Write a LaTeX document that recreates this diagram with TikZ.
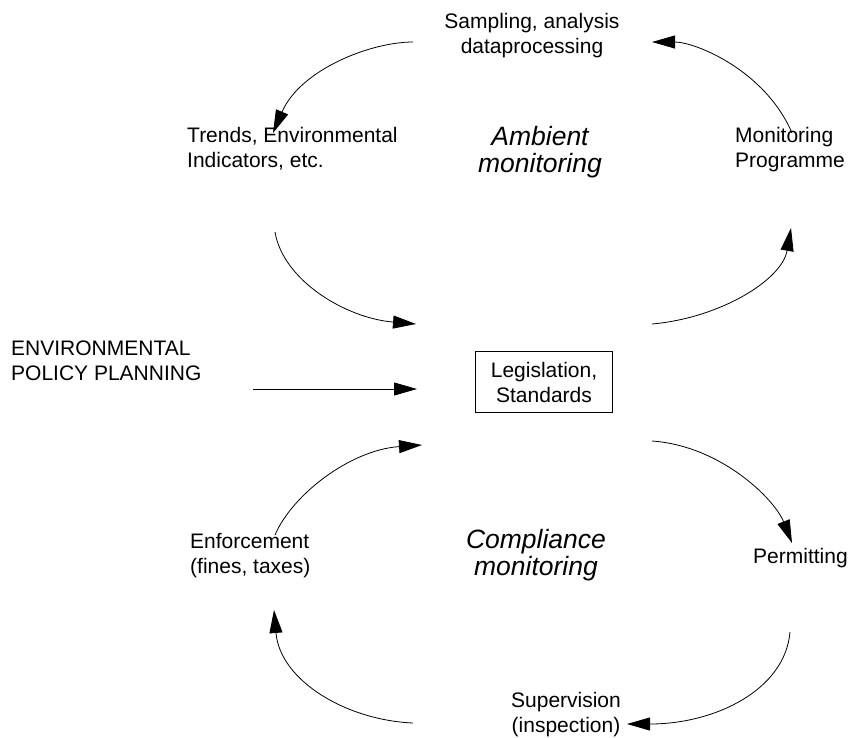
\documentclass[tikz,border=0pt]{standalone}
\usepackage{fontspec}
\setmainfont{Liberation Sans}
\usetikzlibrary{arrows.meta}
\tikzset{
  lbl/.style={font=\fontsize{21}{25}\selectfont, inner sep=0pt, align=left},
  lblc/.style={lbl, align=center},
  cyclename/.style={font=\fontsize{26.5}{27}\selectfont\itshape, inner sep=0pt, align=center},
  flow/.style={-{Triangle[length=23pt,width=13pt]}, line width=0.8pt}
}

\begin{document}
\begin{tikzpicture}[x=1pt, y=-1pt]
\useasboundingbox (0,0) rectangle (848,737);

% Ambient monitoring (upper cycle)
\node[lblc, anchor=base] (samp) at (532,53) {Sampling, analysis\\dataprocessing};
\node[lbl, anchor=base west] (trend) at (187,167) {Trends, Environmental\\Indicators, etc.};
\node[lbl, anchor=base west] (monprog) at (735,167) {Monitoring\\Programme};
\node[cyclename, anchor=base] (ambient) at (540,172) {Ambient\\monitoring};

% Policy input and the central box
\node[lbl, anchor=base west] (policy) at (11,380) {ENVIRONMENTAL\\POLICY PLANNING};
\node[lblc, draw, line width=0.8pt, minimum width=137pt, minimum height=61pt] (legis) at (544,382) {Legislation,\\Standards};

% Compliance monitoring (lower cycle)
\node[lbl, anchor=base west] (enforce) at (190,573) {Enforcement\\(fines, taxes)};
\node[cyclename, anchor=base] (compl) at (536,575) {Compliance\\monitoring};
\node[lbl, anchor=base west] (permit) at (753,563) {Permitting};
\node[lblc, anchor=base] (super) at (566,732) {Supervision\\(inspection)};

% free ends of the arrows
\coordinate (samp-w) at (413,42);
\coordinate (samp-e) at (652,42);
\coordinate (trend-n) at (273,133);
\coordinate (trend-s) at (275,232);
\coordinate (monprog-n) at (792,133);
\coordinate (monprog-s) at (791,228);
\coordinate (legis-nw) at (416,324);
\coordinate (legis-ne) at (652,324);
\coordinate (policy-e) at (253,389);
\coordinate (legis-w) at (417,389);
\coordinate (legis-sw) at (422,445);
\coordinate (legis-se) at (652,441);
\coordinate (permit-n) at (792,543);
\coordinate (permit-s) at (790,632);
\coordinate (super-e) at (627,724);
\coordinate (super-w) at (413,723);
\coordinate (enforce-s) at (274,610);
\coordinate (enforce-n) at (275,535);

% upper cycle arrows
\draw[flow] (samp-w) .. controls (370,42) and (300,70) .. (trend-n);
\draw[flow] (trend-s) .. controls (283,280) and (345,318) .. (legis-nw);
\draw[flow] (legis-ne) .. controls (720,318) and (782,280) .. (monprog-s);
\draw[flow] (monprog-n) .. controls (765,70) and (695,42) .. (samp-e);

% policy arrow
\draw[flow] (policy-e) -- (legis-w);

% lower cycle arrows
\draw[flow] (legis-se) .. controls (722,446) and (775,500) .. (permit-n);
\draw[flow] (permit-s) .. controls (785,690) and (715,724) .. (super-e);
\draw[flow] (super-w) .. controls (345,720) and (280,680) .. (enforce-s);
\draw[flow] (enforce-n) .. controls (292,495) and (350,450) .. (legis-sw);

\end{tikzpicture}
\end{document}
